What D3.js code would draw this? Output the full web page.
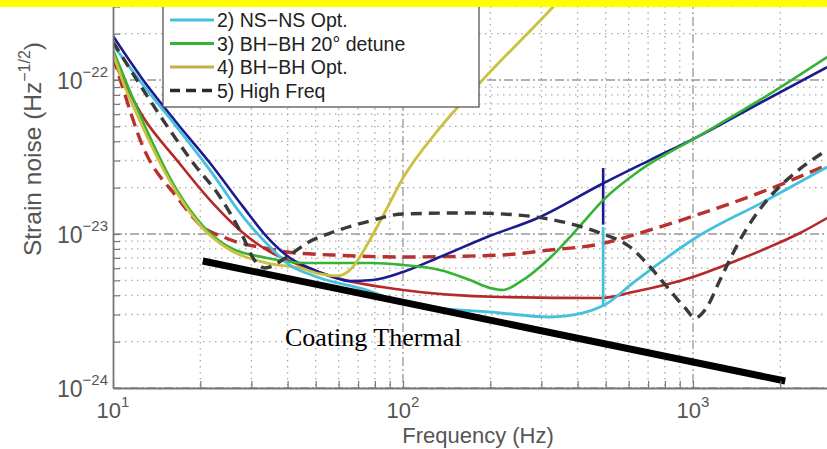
<!DOCTYPE html>
<html>
<head>
<meta charset="utf-8">
<script src="https://cdn.jsdelivr.net/npm/d3@7/dist/d3.min.js"></script>
<style>
    body { margin: 0; background: #fff; }
    svg { display: block; }
</style>
</head>
<body>
<div id="chart"></div>
<script>

// [frequency (Hz), strain noise (Hz^-1/2)]
const navySolid = [[10, 1.93e-22], [12.7, 1.0e-22], [16.6, 5.26e-23], [21.6, 2.89e-23], [28.1, 1.5e-23], [34.0, 9.56e-24],
    [40.8, 6.99e-24], [46.7, 6.11e-24], [57.4, 5.26e-24], [65.6, 4.95e-24], [78.8, 5.03e-24], [100, 5.67e-24],
    [134, 7.09e-24], [195, 9.56e-24], [297, 1.29e-23], [478, 2.08e-23], [711, 3.02e-23], [1032, 4.26e-23],
    [1702, 7.09e-23], [2900, 1.21e-22]];

const nsnsOpt = [[10, 1.69e-22], [13.1, 8.61e-23], [16.6, 4.95e-23], [21.6, 2.60e-23], [28.1, 1.29e-23], [34.8, 8.23e-24],
    [39.8, 6.48e-24], [50.5, 5.26e-24], [75.1, 4.33e-24], [100, 3.56e-24], [216, 3.07e-24], [321, 2.89e-24],
    [418, 3.07e-24], [478, 3.36e-24], [500, 3.5e-24], [621, 4.81e-24], [1032, 9.56e-24], [1800, 1.66e-23],
    [2900, 2.72e-23]];

const bhbhDetune = [[10, 1.57e-22], [12.7, 5.34e-23], [16.6, 1.93e-23], [20.4, 1.13e-23], [24.7, 8.36e-24], [34.0, 6.99e-24],
    [46.7, 6.48e-24], [78.8, 6.48e-24], [100, 6.29e-24], [134, 5.84e-24], [170, 5.03e-24], [200, 4.46e-24],
    [221, 4.33e-24], [253, 4.88e-24], [321, 6.99e-24], [408, 1.13e-23], [490, 1.66e-23], [657, 2.60e-23],
    [1032, 4.26e-23], [1702, 7.42e-23], [2900, 1.41e-22]];

const bhbhOpt = [[10, 1.50e-22], [10.6, 1.08e-22], [12.7, 4.88e-23], [16.6, 1.85e-23], [20.4, 1.09e-23], [24.7, 8.11e-24],
    [34.0, 6.48e-24], [44.1, 6.02e-24], [51.7, 5.50e-24], [59.2, 5.34e-24], [66.7, 6.02e-24], [75.1, 8.48e-24],
    [86.7, 1.39e-23], [100, 2.31e-23], [134, 4.88e-23], [184, 9.56e-23], [329, 2.98e-22], [478, 6.48e-22]];

const highFreq = [[10, 1.77e-22], [12.4, 9.28e-23], [15.7, 4.73e-23], [18.9, 2.89e-23], [23.4, 1.74e-23], [28.1, 9.56e-24],
    [30.4, 6.99e-24], [33.4, 6.02e-24], [39.8, 7.09e-24], [46.7, 8.74e-24], [57.4, 1.03e-23], [75.1, 1.20e-23],
    [100, 1.35e-23], [166, 1.37e-23], [247, 1.33e-23], [368, 1.18e-23], [478, 1.015e-23], [607, 8.23e-24],
    [711, 6.11e-24], [814, 4.53e-24], [939, 3.31e-24], [1016, 2.85e-24], [1118, 3.36e-24], [1239, 5.03e-24],
    [1452, 9.14e-24], [1800, 1.66e-23], [2160, 2.34e-23], [2900, 3.51e-23]];

const redSolid = [[10, 1.35e-22], [12.7, 5.75e-23], [16.6, 3.02e-23], [21.6, 1.66e-23], [28.1, 1.015e-23], [35.3, 7.53e-24],
    [44.1, 6.29e-24], [57.4, 5.26e-24], [100, 4.33e-24], [216, 3.90e-24], [478, 3.84e-24], [621, 4.20e-24],
    [1000, 5.26e-24], [1374, 6.58e-24], [1800, 8.11e-24], [2339, 1.015e-23], [2900, 1.27e-23]];

const redDashed = [[10, 1.42e-22], [10.6, 1.0e-22], [12.7, 3.67e-23], [16.6, 1.74e-23], [20.4, 1.11e-23], [24.0, 9.56e-24],
    [27.4, 8.74e-24], [32.1, 8.23e-24], [39.8, 7.64e-24], [57.4, 7.30e-24], [100, 7.09e-24], [216, 7.30e-24],
    [321, 7.87e-24], [478, 8.61e-24], [657, 1.015e-23], [1032, 1.33e-23], [1800, 1.93e-23], [2900, 2.81e-23]];

// violin-mode spikes near 490 Hz
const navySpike = [[490, 2.68e-23], [490, 1.15e-23]];
const cyanSpike = [[490, 1.11e-23], [490, 3.4e-24]];

const coatingThermal = [[20.4, 6.68e-24], [2080, 1.11e-24]];

const legendLabels = ["2) NS\u2212NS Opt.", "3) BH\u2212BH 20\u00b0 detune", "4) BH\u2212BH Opt.", "5) High Freq"];

const xTicks = [10, 100, 1000];
const xTickExps = ["1", "2", "3"];
const yTicks = [1e-24, 1e-23, 1e-22];
const yTickExps = ["\u221224", "\u221223", "\u221222"];


class NoiseCurvePlot {

    draw = (id) => {

        this.cfg = {
            width: 827,
            height: 449,
            left: 113,      // y axis line
            bottom: 388,    // x axis line
            decadeX: 290,   // px per decade
            decadeY: 154,
            axisColor: "#777",
            textColor: "#555",
            font: "'Liberation Sans', Arial, sans-serif"
        }
        const cfg = this.cfg;

        const x = d3.scaleLog()
            .domain([10, 1e4])
            .range([cfg.left, cfg.left + 3 * cfg.decadeX]);

        const y = d3.scaleLog()
            .domain([1e-24, 1e-21])
            .range([cfg.bottom, cfg.bottom - 3 * cfg.decadeY]);

        d3.select(id).select("svg").remove();

        const svg = d3.select(id)
            .append("svg")
            .attr("width", cfg.width)
            .attr("height", cfg.height);

        svg.append("rect")
            .attr("width", cfg.width).attr("height", cfg.height)
            .attr("fill", "#fff");

        svg.append("clipPath").attr("id", "plotClip")
            .append("rect")
            .attr("x", cfg.left).attr("y", 0)
            .attr("width", cfg.width - cfg.left).attr("height", cfg.bottom);

        const isDecade = (v) => Math.abs(Math.log10(v) - Math.round(Math.log10(v))) < 1e-6;

        // grid: dotted minor, dash-dot major
        const grid = svg.append("g").attr("clip-path", "url(#plotClip)");
        const xs = x.ticks();
        const ys = y.ticks();

        grid.selectAll(".gx").data(xs).enter().append("line")
            .attr("x1", d => x(d)).attr("x2", d => x(d))
            .attr("y1", 0).attr("y2", cfg.bottom)
            .attr("stroke", d => isDecade(d) ? "#999" : "#aaa")
            .attr("stroke-width", 1.3)
            .attr("stroke-dasharray", d => isDecade(d) ? "9,3,2,3" : "1.5,4.5");

        grid.selectAll(".gy").data(ys).enter().append("line")
            .attr("y1", d => y(d)).attr("y2", d => y(d))
            .attr("x1", cfg.left).attr("x2", cfg.width)
            .attr("stroke", d => isDecade(d) ? "#999" : "#aaa")
            .attr("stroke-width", 1.3)
            .attr("stroke-dasharray", d => isDecade(d) ? "9,3,2,3" : "1.5,4.5");

        // curves
        const line = d3.line()
            .x(d => x(d[0]))
            .y(d => y(d[1]))
            .curve(d3.curveMonotoneX);

        const straight = d3.line()
            .x(d => x(d[0]))
            .y(d => y(d[1]));

        const curves = [
            { data: redDashed, color: "#b8302f", width: 3.4, dash: "13,7" },
            { data: redSolid, color: "#b5292b", width: 2.6 },
            { data: navySolid, color: "#1b1b8f", width: 2.6 },
            { data: navySpike, color: "#1b1b8f", width: 2.6, straight: true },
            { data: bhbhDetune, color: "#35b335", width: 2.6 },
            { data: bhbhOpt, color: "#c9c13f", width: 2.8 },
            { data: nsnsOpt, color: "#45c1de", width: 2.8 },
            { data: cyanSpike, color: "#45c1de", width: 2.8, straight: true },
            { data: highFreq, color: "#3a3a3a", width: 3.4, dash: "11,7" }
        ];

        const plot = svg.append("g").attr("clip-path", "url(#plotClip)");
        curves.forEach((c) => {
            plot.append("path")
                .datum(c.data)
                .attr("d", c.straight ? straight : line)
                .attr("fill", "none")
                .attr("stroke", c.color)
                .attr("stroke-width", c.width)
                .attr("stroke-linejoin", "round")
                .attr("stroke-dasharray", c.dash || null);
        });

        // coating thermal guide
        svg.append("path")
            .datum(coatingThermal)
            .attr("d", straight)
            .attr("stroke", "#000")
            .attr("stroke-width", 7);

        svg.append("text")
            .attr("x", 285).attr("y", 346)
            .attr("font-family", "'Liberation Serif', 'Times New Roman', serif")
            .attr("font-size", 26)
            .attr("fill", "#000")
            .text("Coating Thermal");

        // axes, ticks pointing inward
        const xAxis = svg.append("g")
            .attr("transform", "translate(0," + cfg.bottom + ")");
        xAxis.call(d3.axisBottom(x).tickValues(xs).tickSize(-7).tickSizeOuter(0).tickFormat(""));

        const yAxis = svg.append("g")
            .attr("transform", "translate(" + cfg.left + ",0)");
        yAxis.call(d3.axisLeft(y).tickValues(ys).tickSize(-7).tickSizeOuter(0).tickFormat(""));

        [xAxis, yAxis].forEach((ax) => {
            ax.select(".domain").attr("stroke", cfg.axisColor).attr("stroke-width", 1.8);
            ax.selectAll(".tick line").attr("stroke", cfg.axisColor).attr("stroke-width", 1.2);
        });

        // tick labels 10^n
        xTicks.forEach((v, i) => {
            const t = svg.append("text")
                .attr("x", x(v)).attr("y", 418)
                .attr("text-anchor", "middle")
                .attr("font-family", cfg.font)
                .attr("fill", cfg.textColor);
            t.append("tspan").attr("font-size", 22).text("10");
            t.append("tspan").attr("font-size", 15).attr("dy", -11).text(xTickExps[i]);
        });

        yTicks.forEach((v, i) => {
            const t = svg.append("text")
                .attr("x", 108).attr("y", y(v) + 9)
                .attr("text-anchor", "end")
                .attr("font-family", cfg.font)
                .attr("fill", cfg.textColor);
            t.append("tspan").attr("font-size", 23).text("10");
            t.append("tspan").attr("font-size", 15).attr("dy", -12).text(yTickExps[i]);
        });

        // axis titles
        svg.append("text")
            .attr("x", 478).attr("y", 443)
            .attr("text-anchor", "middle")
            .attr("font-family", cfg.font)
            .attr("font-size", 22)
            .attr("fill", cfg.textColor)
            .text("Frequency (Hz)");

        const yl = svg.append("text")
            .attr("transform", "translate(41,149) rotate(-90)")
            .attr("text-anchor", "middle")
            .attr("font-family", cfg.font)
            .attr("font-size", 24.5)
            .attr("fill", cfg.textColor);
        yl.append("tspan").text("Strain noise (Hz");
        yl.append("tspan").attr("font-size", 16).attr("dy", -11).text("\u22121/2");
        yl.append("tspan").attr("dy", 11).text(")");

        // legend (top of it is cut off by the banner)
        const legendStyles = [
            { color: "#45c1de" },
            { color: "#35b335" },
            { color: "#bfb24a" },
            { color: "#2a2a2a", dash: "10,6" }
        ];
        const lg = svg.append("g");
        lg.append("rect")
            .attr("x", 163).attr("y", -30)
            .attr("width", 316).attr("height", 137)
            .attr("fill", "#fff")
            .attr("stroke", "#555")
            .attr("stroke-width", 1.3);

        legendLabels.forEach((lab, i) => {
            const ly = 20 + i * 23.5;
            lg.append("line")
                .attr("x1", 170).attr("x2", 214)
                .attr("y1", ly).attr("y2", ly)
                .attr("stroke", legendStyles[i].color)
                .attr("stroke-width", legendStyles[i].dash ? 3.4 : 3)
                .attr("stroke-dasharray", legendStyles[i].dash || null);
            lg.append("text")
                .attr("x", 217).attr("y", ly + 7)
                .attr("font-family", cfg.font)
                .attr("font-size", 19.5)
                .attr("fill", "#222")
                .text(lab);
        });

        // yellow banner along the top edge
        svg.append("rect")
            .attr("x", 0).attr("y", 0)
            .attr("width", cfg.width).attr("height", 7)
            .attr("fill", "#ffff00");
    }
}

new NoiseCurvePlot().draw("#chart");

</script>
</body>
</html>
